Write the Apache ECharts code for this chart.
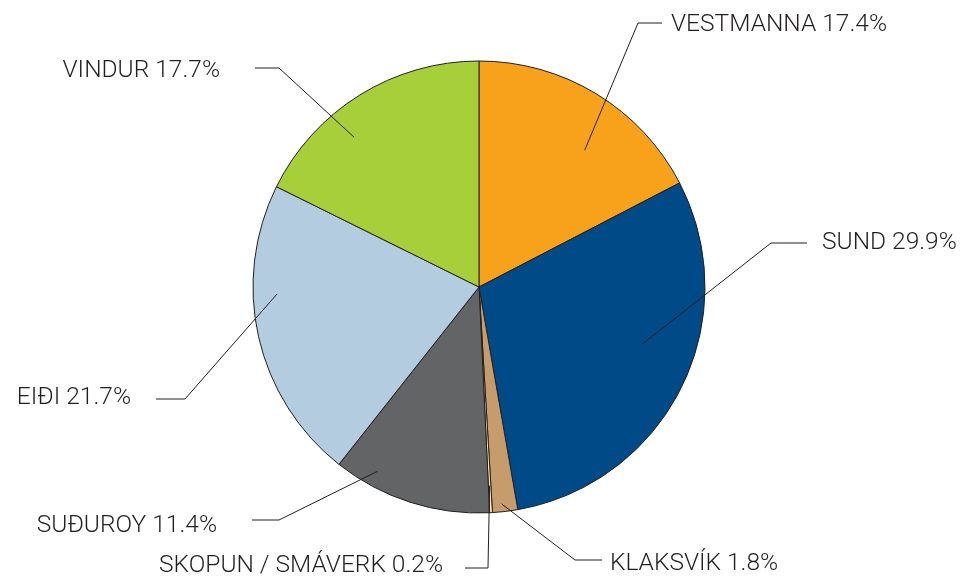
<!DOCTYPE html>
<html><head><meta charset="utf-8">
<script src="https://cdn.jsdelivr.net/npm/echarts@6/dist/echarts.min.js"></script>
<style>html,body{margin:0;padding:0;background:#fff}#c{width:968px;height:579px}</style>
</head><body><div id="c"></div>
<script>
const categories = ['VESTMANNA', 'SUND', 'KLAKSVÍK', 'SKOPUN / SMÁVERK', 'SUÐUROY', 'EIÐI', 'VINDUR'];
const shares = [17.4, 29.9, 1.8, 0.2, 11.4, 21.7, 17.7];
const sliceColors = ['#F8A21C', '#004A87', '#C69C6D', '#FDE7B6', '#636466', '#B3CCDF', '#A7CF3A'];

// Pie geometry (pixels)
const CX = 479, CY = 287, R = 226;

// Label leader placement: angle nudge (deg) and radius fraction for the inner end,
// elbow point, end of horizontal segment, text anchor, alignment
const labelAnchors = [
  { nudge: 6.4,  rf: 0.765, elbow: [638, 23],  endX: 662, tx: 671, ty: 25,  align: 'left' },
  { nudge: -7,   rf: 0.765, elbow: [771, 243], endX: 807, tx: 822, ty: 243, align: 'left' },
  { nudge: 0.7,  rf: 0.965, elbow: [575, 560], endX: 602, tx: 610, ty: 564, align: 'left' },
  { nudge: 0,    rf: 0.88,  elbow: [488, 568], endX: 465, tx: 443, ty: 566, align: 'right' },
  { nudge: 11,   rf: 0.93,  elbow: [279, 520], endX: 252, tx: 217, ty: 526, align: 'right' },
  { nudge: 10.7, rf: 0.894, elbow: [185, 399], endX: 156, tx: 131, ty: 398, align: 'right' },
  { nudge: -8,   rf: 0.863, elbow: [279, 68],  endX: 255, tx: 220, ty: 71,  align: 'right' }
];

const total = shares.reduce((a, b) => a + b, 0);
let cum = 0;
const midAngles = shares.map(v => { const m = (cum + v / 2) / total * 360; cum += v; return m; });

const chart = echarts.init(document.getElementById('c'), null, { renderer: 'canvas' });
chart.setOption({
  animation: false,
  backgroundColor: '#ffffff',
  series: [{
    type: 'pie',
    z: 2,
    center: [CX, CY],
    radius: R,
    startAngle: 90,
    clockwise: true,
    silent: true,
    data: categories.map((n, i) => ({ name: n, value: shares[i], itemStyle: { color: sliceColors[i] } })),
    itemStyle: { borderColor: '#231F20', borderWidth: 1 },
    label: { show: false },
    labelLine: { show: false },
    emphasis: { disabled: true }
  }, {
    type: 'pie',
    z: 5,
    center: [CX, CY],
    radius: R,
    startAngle: 90,
    clockwise: true,
    silent: true,
    avoidLabelOverlap: false,
    data: categories.map((n, i) => ({ name: n, value: shares[i] })),
    itemStyle: { color: 'rgba(0,0,0,0)', borderWidth: 0 },
    label: {
      show: true,
      position: 'outside',
      formatter: p => p.name + ' ' + shares[p.dataIndex].toFixed(1) + '%',
      fontFamily: 'Roboto',
      fontWeight: 300,
      fontSize: 24.5,
      color: '#231F20'
    },
    labelLine: { show: true, length: 20, length2: 20, smooth: false, lineStyle: { color: '#231F20', width: 1 } },
    emphasis: { disabled: true },
    labelLayout: function (p) {
      const a = labelAnchors[p.dataIndex];
      const th = (midAngles[p.dataIndex] + a.nudge) * Math.PI / 180;
      const r = a.rf * R;
      const inner = [CX + r * Math.sin(th), CY - r * Math.cos(th)];
      return {
        x: a.tx, y: a.ty, align: a.align, verticalAlign: 'middle',
        labelLinePoints: [inner, a.elbow.slice(), [a.endX, a.elbow[1]]]
      };
    }
  }]
});
</script>
</body></html>
